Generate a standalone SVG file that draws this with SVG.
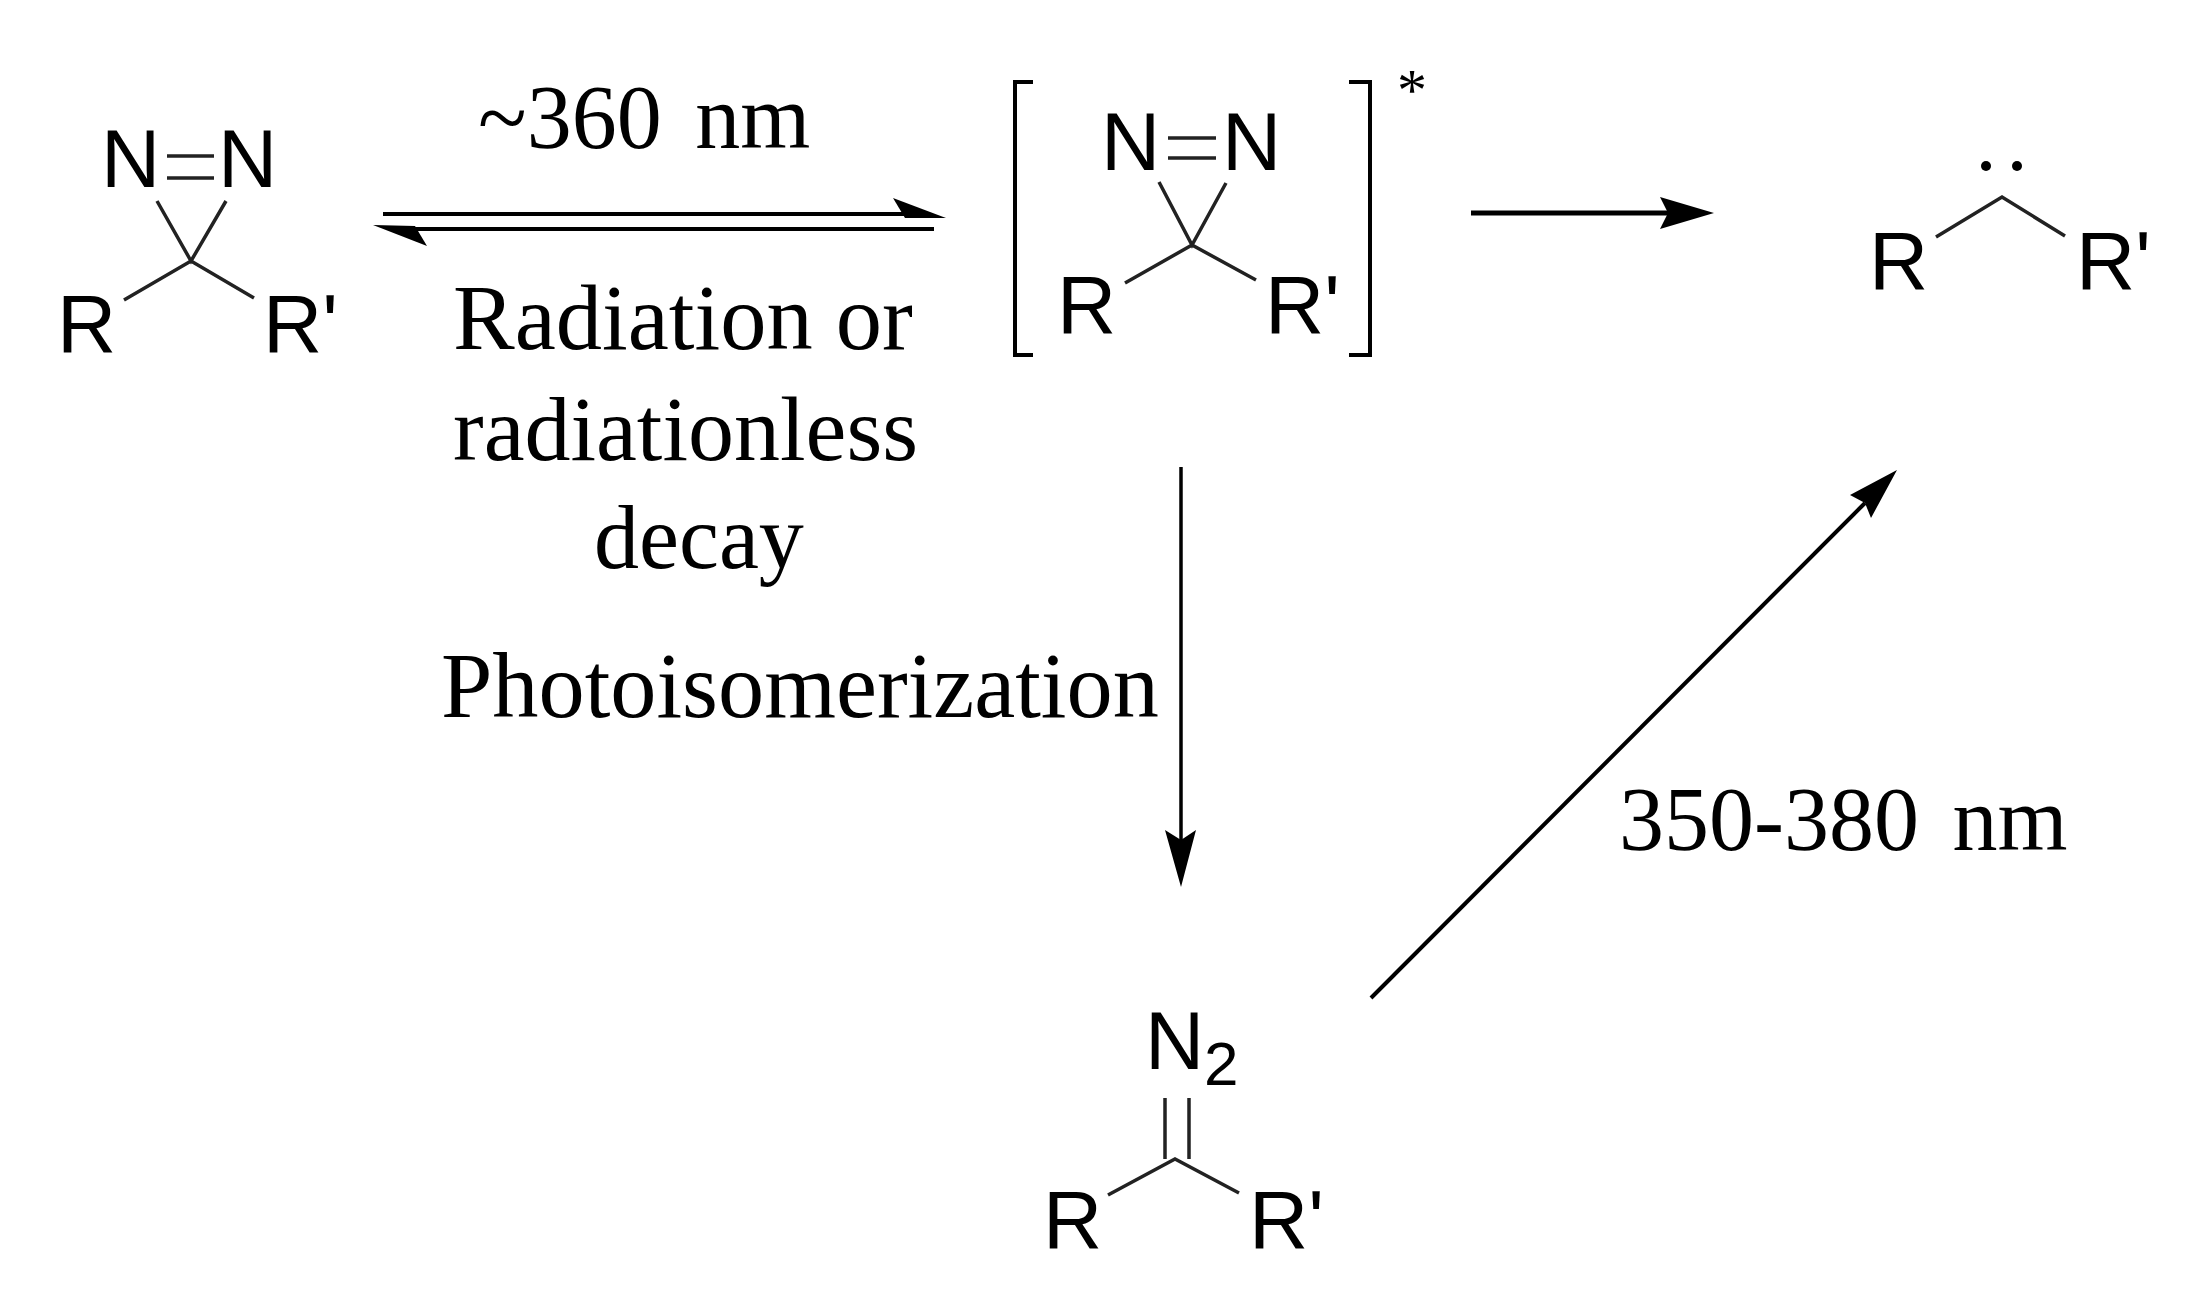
<svg xmlns="http://www.w3.org/2000/svg" width="2194" height="1296" viewBox="0 0 2194 1296">
<style>
text{fill:#000}
.a{font:82px "Liberation Sans",Arial,sans-serif}
.s{font:90px "Liberation Serif","Times New Roman",serif}
.b{stroke:#222;stroke-width:3.500;fill:none}
.l{stroke:#000;stroke-width:4;fill:none}
.h{fill:#000;stroke:none}
</style>
<rect width="2194" height="1296" fill="#fff"/>
<g id="connectors">
<path class="l" d="M383 214H915"/><polygon class="h" points="946,218 893,198 905,218"/>
<path class="l" d="M934 229H405"/><polygon class="h" points="373,225 427,246 415,226"/>
<path class="l" d="M1471 213H1670" style="stroke-width:5"/><polygon class="h" points="1714,213 1660,197 1668,213 1660,229"/>
<path class="l" d="M1181 467V845" style="stroke-width:3.500"/><polygon class="h" points="1181,887 1165,830 1181,840 1196,830"/>
<path class="l" d="M1371 998L1865 503"/><polygon class="h" points="1897,470 1850,495 1865,503 1871,518"/>
</g>
<g id="diazirine">
<text class="a" x="101" y="187">N</text><text class="a" x="218" y="187">N</text>
<path class="b" d="M167 156H214M167 178H214M157 201L191 261L226 201M124 300L191 261L254 298"/>
<text class="a" x="57" y="352">R</text><text class="a" x="263" y="352">R'</text>
</g>
<g id="excited-diazirine">
<path class="l" d="M1033 82H1015V355H1033M1349 82H1370V355H1349"/>
<text class="s" style="font-size:60px" x="1397" y="110">*</text>
<text class="a" x="1101" y="170">N</text><text class="a" x="1222" y="170">N</text>
<path class="b" d="M1168 138H1216M1168 158H1216M1159 182L1192 245L1226 183M1125 283L1192 245L1256 280"/>
<text class="a" x="1057" y="333">R</text><text class="a" x="1265" y="333">R'</text>
</g>
<g id="carbene">
<circle class="h" cx="1986" cy="166" r="5"/><circle class="h" cx="2017" cy="166" r="5"/>
<path class="b" d="M1936 237L2002 197L2065 236"/>
<text class="a" x="1869" y="289">R</text><text class="a" x="2076" y="289">R'</text>
</g>
<g id="diazo">
<text class="a" x="1145" y="1069">N</text><text class="a" style="font-size:62px" x="1204" y="1085">2</text>
<path class="b" d="M1165 1098V1159M1189 1098V1159M1108 1195L1175 1159L1239 1193"/>
<text class="a" x="1043" y="1248">R</text><text class="a" x="1249" y="1248">R'</text>
</g>
<g id="labels">
<text class="s" x="478" y="148" style="word-spacing:11px">~360 nm</text>
<text class="s" x="453" y="349" style="font-size:92.500px">Radiation or</text>
<text class="s" x="453" y="460" style="font-size:92px">radiationless</text>
<text class="s" x="594" y="568" style="font-size:90px">decay</text>
<text class="s" x="441" y="717" style="font-size:92.300px">Photoisomerization</text>
<text class="s" x="1619" y="850" style="word-spacing:11px">350-380 nm</text>
</g>
</svg>
